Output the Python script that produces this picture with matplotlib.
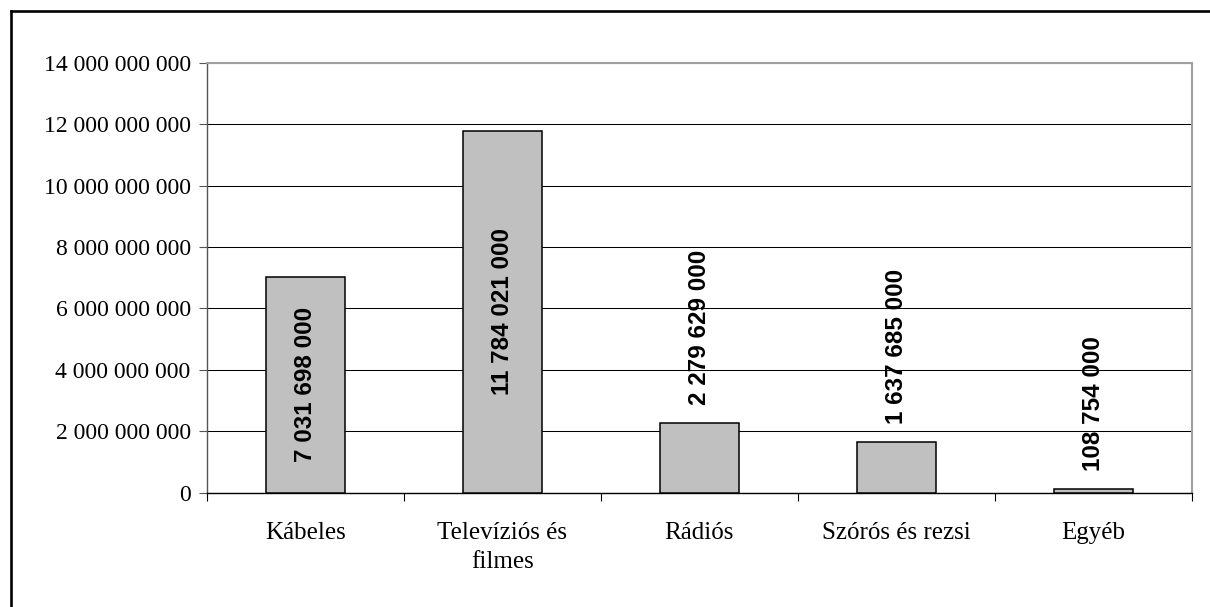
import numpy as np
import matplotlib.pyplot as plt
from matplotlib.lines import Line2D
from matplotlib.ticker import FuncFormatter

# ============================================================================
# Data
# ============================================================================
categories = ["Kábeles", "Televíziós és\nfilmes", "Rádiós", "Szórós és rezsi", "Egyéb"]
values = [7031698000, 11784021000, 2279629000, 1637685000, 108754000]
label_inside = [True, True, False, False, False]
y_ticks = np.arange(0, 14000000001, 2000000000)


def fmt_hu(v, pos=None):
    # Hungarian style thousands separator (space)
    return f"{int(v):,}".replace(",", " ")


# ============================================================================
# Figure
# ============================================================================
W, H = 1210, 607
fig = plt.figure(figsize=(W / 100, H / 100), dpi=100)
fig.patch.set_facecolor("white")

# outer frame (only top and left visible in the crop)
fig.add_artist(Line2D([11 / W, 11 / W], [0, 1 - 11 / H], transform=fig.transFigure,
                      color="black", linewidth=1.9))
fig.add_artist(Line2D([11 / W, 1], [1 - 11 / H, 1 - 11 / H], transform=fig.transFigure,
                      color="black", linewidth=1.9))

ax = fig.add_axes([206.7 / W, 1 - 492.7 / H, (1192 - 206.7) / W, (492.7 - 62.7) / H])

x = np.arange(len(categories))
bars = ax.bar(x, values, width=0.4, color="#c0c0c0", edgecolor="black",
              linewidth=1.1, zorder=3)

ax.set_xlim(-0.5, len(categories) - 0.5)
ax.set_ylim(0, 14000000000)
ax.set_yticks(y_ticks)
ax.yaxis.set_major_formatter(FuncFormatter(fmt_hu))
ax.grid(axis="y", color="black", linewidth=0.75, zorder=1)
ax.set_axisbelow(True)

# category labels centred on bars, ticks on category borders
ax.set_xticks(x)
ax.set_xticklabels(categories, family="Liberation Serif", fontsize=18, linespacing=1.4)
ax.set_xticks(np.arange(-0.5, len(categories)), minor=True)
ax.tick_params(axis="x", which="major", length=0, pad=21)
ax.tick_params(axis="x", which="minor", length=5.5, width=0.8, color="black")
ax.tick_params(axis="y", length=5.5, width=0.8, color="#555555", pad=6)
for lab in ax.get_yticklabels():
    lab.set_family("Liberation Serif")
    lab.set_fontsize(17)

ax.spines["top"].set_color("#a0a0a0")
ax.spines["right"].set_color("#a0a0a0")
ax.spines["top"].set_linewidth(1.5)
ax.spines["right"].set_linewidth(1.5)
ax.spines["left"].set_color("#555555")
ax.spines["left"].set_linewidth(1.0)
ax.spines["bottom"].set_color("black")
ax.spines["bottom"].set_linewidth(1.0)

# value labels
for xi, v, inside in zip(x, values, label_inside):
    if inside:
        ax.text(xi, v / 2, fmt_hu(v), rotation=90, ha="center", va="center",
                family="Liberation Sans", fontweight="bold", fontsize=17.5, zorder=4)
    else:
        ax.annotate(fmt_hu(v), (xi, v), xytext=(0, 13), textcoords="offset points",
                    rotation=90, ha="center", va="bottom",
                    family="Liberation Sans", fontweight="bold", fontsize=17.5, zorder=4)

fig.savefig("out.png", dpi=100)
